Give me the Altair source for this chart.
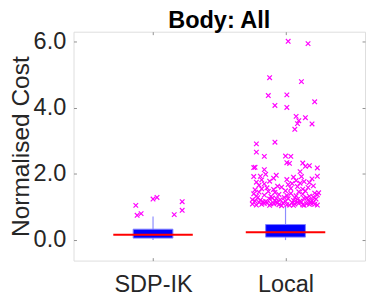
import altair as alt
import pandas as pd

categories = ["SDP-IK", "Local"]
positions = [1, 2]
q1 = [0.06, 0.09]
median = [0.16, 0.24]
q3 = [0.33, 0.47]
whisk_lo = [0.0, 0.0]
whisk_hi = [0.71, 1.04]

sdp_out_val = [1.05, 0.75, 0.80, 1.24, 1.29, 0.77, 0.90, 1.16]
sdp_out_jit = [-0.13, -0.12, -0.09, 0.00, 0.03, 0.16, 0.22, 0.22]

local_out_val = [
    6.01, 5.94, 4.91, 4.79, 4.39, 4.37, 4.18, 4.07, 4.01, 3.74, 3.70, 3.61, 3.52, 3.51, 3.35,
    2.96, 2.91, 2.66, 2.54, 2.53, 2.53, 2.34, 2.33, 2.32, 2.25, 2.23, 2.20, 2.19, 2.18, 2.13,
    2.07, 1.99, 1.96, 1.93, 1.93, 1.92, 1.92, 1.90, 1.83,
    1.06, 1.08, 1.05, 1.10, 1.07, 1.12, 1.06, 1.09, 1.11, 1.05, 1.08, 1.13, 1.06, 1.14, 1.12,
    1.15, 1.13, 1.15, 1.10, 1.04, 1.09, 1.11, 1.07, 1.14, 1.08, 1.12, 1.05, 1.10, 1.13, 1.07,
    1.18, 1.21, 1.17, 1.24, 1.19, 1.22, 1.17, 1.25, 1.20, 1.23, 1.18, 1.26, 1.21, 1.19, 1.24,
    1.28, 1.27, 1.29, 1.28, 1.27, 1.16, 1.30, 1.22, 1.26, 1.16,
    1.33, 1.36, 1.32, 1.38, 1.35, 1.41, 1.34, 1.39, 1.33, 1.42, 1.45, 1.47, 1.44, 1.49, 1.46,
    1.48, 1.43, 1.37, 1.40,
    1.52, 1.55, 1.58, 1.53, 1.60, 1.56, 1.62, 1.54, 1.59, 1.64, 1.66, 1.70, 1.68, 1.72, 1.75,
    1.74, 1.78, 1.80, 1.77, 1.82, 1.85, 1.87, 1.63, 1.71,
]
local_out_jit = [
    0.02, 0.17, -0.12, 0.12, 0.01, -0.13, 0.22, -0.08, 0.01, 0.08, 0.15, 0.10, 0.09, 0.20, 0.07,
    -0.08, -0.22, -0.22, 0.00, -0.16, 0.04, 0.01, 0.13, 0.03, 0.18, 0.15, -0.23, -0.24, 0.24, -0.16,
    0.11, -0.15, -0.07, 0.24, -0.19, -0.24, 0.12, 0.06, 0.01,
    -0.22, -0.18, -0.12, -0.09, -0.05, -0.02, 0.03, 0.07, 0.10, 0.14, 0.18, 0.21, 0.24, -0.20, -0.14,
    -0.07, 0.05, 0.12, 0.16, -0.03, -0.25, -0.16, 0.01, 0.09, 0.22, 0.19, 0.06, -0.11, -0.06, 0.13,
    -0.23, -0.19, -0.15, -0.12, -0.08, -0.04, 0.00, 0.02, 0.06, 0.09, 0.11, 0.14, 0.17, 0.20, 0.23,
    -0.21, -0.10, -0.01, 0.07, 0.16, -0.17, 0.21, -0.25, -0.07, 0.19,
    -0.22, -0.16, -0.11, -0.05, 0.01, 0.04, 0.08, 0.13, 0.18, 0.22, -0.20, -0.13, -0.08, 0.00, 0.10,
    0.15, 0.25, 0.24, -0.24,
    -0.23, -0.18, -0.14, -0.09, -0.03, 0.04, 0.09, 0.13, 0.17, 0.21, -0.20, -0.16, 0.02, 0.11, -0.22,
    0.18, -0.12, 0.08, 0.14, -0.18, 0.20, -0.09, -0.06, 0.05,
]

y_ticks = [0, 2, 4, 6]

box_df = pd.DataFrame({
    "cat": categories, "pos": positions, "q1": q1, "median": median,
    "q3": q3, "wlo": whisk_lo, "whi": whisk_hi,
})
out_df = pd.DataFrame({
    "pos": [1] * len(sdp_out_val) + [2] * len(local_out_val),
    "val": sdp_out_val + local_out_val,
    "jit": sdp_out_jit + local_out_jit,
})

FONT = "Liberation Sans"
FRAME = "#8f8f8f"
TEXT = "#262626"
xscale = alt.Scale(domain=[0.4, 2.6], nice=False, zero=False)
yscale = alt.Scale(domain=[-0.62, 6.3], nice=False, zero=False)

label_expr = " : ".join(
    f"datum.value == {p} ? '{c}'" for p, c in zip(positions, categories)
) + " : ''"

x_axis = alt.Axis(values=positions, labelExpr=label_expr, domain=False, grid=False,
                  tickSize=3, offset=-3, tickColor=FRAME, labelFontSize=24,
                  labelColor=TEXT, labelFont=FONT, labelPadding=13, title=None)
y_axis = alt.Axis(values=y_ticks, format=".1f", domain=False, grid=False,
                  tickSize=3, offset=-3, tickColor=FRAME, labelFontSize=24,
                  labelColor=TEXT, labelFont=FONT, labelPadding=8,
                  title="Normalised Cost", titleFontSize=25, titleFont=FONT,
                  titleFontWeight="normal", titleColor=TEXT, titlePadding=0)
x_top = alt.Axis(values=positions, orient="top", labels=False, domain=False, grid=False,
                 tickSize=3, offset=-3, tickColor=FRAME, title=None)
y_right = alt.Axis(values=y_ticks, orient="right", labels=False, domain=False, grid=False,
                   tickSize=3, offset=-3, tickColor=FRAME, title=None)

base = alt.Chart(box_df)

whisk = base.mark_rule(color="#8c8cff", strokeWidth=1.2).encode(
    x=alt.X("pos:Q", scale=xscale, axis=x_axis),
    y=alt.Y("wlo:Q", scale=yscale, axis=y_axis),
    y2="whi:Q",
)
box = base.transform_calculate(
    bx1="datum.pos - 0.15", bx2="datum.pos + 0.15"
).mark_rect(color="#0000ff", stroke="#8080ff", strokeWidth=1).encode(
    x=alt.X("bx1:Q", scale=xscale, axis=None), x2="bx2:Q",
    y=alt.Y("q1:Q", scale=yscale, axis=None), y2="q3:Q",
)
med = base.transform_calculate(
    mx1="datum.pos - 0.3", mx2="datum.pos + 0.3"
).mark_rule(color="#ff0000", strokeWidth=2).encode(
    x=alt.X("mx1:Q", scale=xscale, axis=None), x2="mx2:Q",
    y=alt.Y("median:Q", scale=yscale, axis=None),
)
outl = alt.Chart(out_df).transform_calculate(
    px="datum.pos + datum.jit"
).mark_point(shape="M-1,-1L1,1M-1,1L1,-1", color="#ff00ff", filled=False,
             size=22, strokeWidth=1.2, opacity=1).encode(
    x=alt.X("px:Q", scale=xscale, axis=None),
    y=alt.Y("val:Q", scale=yscale, axis=None),
)
mirror = base.mark_point(opacity=0).encode(
    x=alt.X("pos:Q", scale=xscale, axis=x_top),
    y=alt.Y("median:Q", scale=yscale, axis=y_right),
)

chart = alt.layer(whisk, box, med, outl, mirror).resolve_axis(
    x="independent", y="independent"
).properties(
    width=298, height=234,
    autosize=alt.AutoSizeParams(type="none"),
    padding={"left": 67, "top": 21, "right": 1, "bottom": 35},
    title=alt.TitleParams("Body: All", fontSize=24, fontWeight="bold", font=FONT,
                          color="black", anchor="middle", offset=-3),
).configure_view(stroke=FRAME, strokeWidth=1).configure(background="white")

chart.save("out.html", embed_options={"renderer": "svg", "actions": False})
